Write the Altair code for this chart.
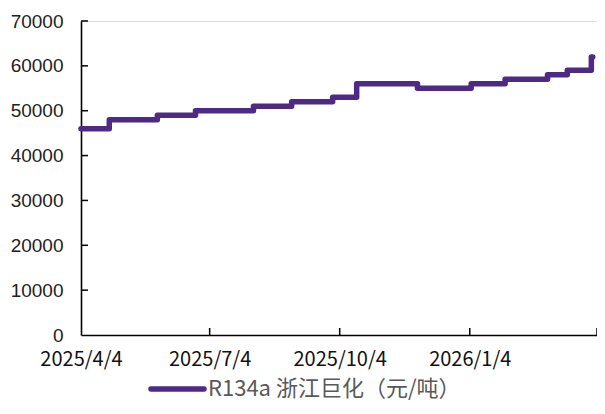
import altair as alt
import pandas as pd

# Step change dates and prices (元/吨)
dates = ["2025-04-04", "2025-04-24", "2025-05-28", "2025-06-24", "2025-08-04",
         "2025-08-31", "2025-09-29", "2025-10-16", "2025-11-28", "2026-01-05",
         "2026-01-29", "2026-02-28", "2026-03-14", "2026-03-31", "2026-04-01"]
prices = [46000, 48000, 49000, 50000, 51000,
          52000, 53000, 56000, 55000, 56000,
          57000, 58000, 59000, 62000, 62000]
series_name = "R134a 浙江巨化（元/吨）"

x_ticks = ["2025-04-04", "2025-07-04", "2025-10-04", "2026-01-04", "2026-04-04"]
x_label_dates = ["2025-04-04", "2025-07-04", "2025-10-04", "2026-01-04"]
y_ticks = [0, 10000, 20000, 30000, 40000, 50000, 60000, 70000]

LINE_COLOR = "#4E2A84"
W, H = 516, 314

df = pd.DataFrame({"date": dates, "price": prices, "series": series_name})
xt_df = pd.DataFrame({"date": x_ticks[1:]})
yt_df = pd.DataFrame({"v": y_ticks[1:]})
lg_df = pd.DataFrame({"label": [series_name]})

x_scale = alt.Scale(type="utc", domain=["2025-04-04", "2026-04-04"])
y_scale = alt.Scale(domain=[0, 70000], nice=False)

line = alt.Chart(df).mark_line(
    interpolate="step-after", strokeWidth=5.5, strokeCap="round",
    strokeJoin="round", color=LINE_COLOR
).encode(
    x=alt.X("date:T", scale=x_scale,
            axis=alt.Axis(title=None, values=x_label_dates, format="%Y/%-m/%-d",
                          ticks=False, grid=False, labelFont="Noto Sans CJK SC",
                          labelFontSize=20, labelColor="#111", labelPadding=14,
                          domainColor="#000", domainWidth=1.6, labelFlush=False)),
    y=alt.Y("price:Q", scale=y_scale,
            axis=alt.Axis(title=None, values=y_ticks, format="d", ticks=False,
                          grid=False, labelFont="Liberation Sans", labelFontSize=19,
                          labelColor="#222", labelPadding=18,
                          domainColor="#000", domainWidth=1.6)),
)

xticks = alt.Chart(xt_df).mark_rule(color="#000", strokeWidth=1.5).encode(
    x=alt.X("date:T", scale=x_scale),
    y=alt.value(H), y2=alt.value(H - 7),
)

yticks = alt.Chart(yt_df).mark_rule(color="#000", strokeWidth=1.5).encode(
    y=alt.Y("v:Q", scale=y_scale),
    x=alt.value(0), x2=alt.value(7),
)

legend_line = alt.Chart(lg_df).mark_rule(
    color=LINE_COLOR, strokeWidth=5.5, strokeCap="round"
).encode(x=alt.value(70), x2=alt.value(123), y=alt.value(368))

legend_text = alt.Chart(lg_df).mark_text(
    align="left", baseline="middle", font="Noto Sans CJK SC", fontSize=22,
    color="#595959"
).encode(text="label:N", x=alt.value(127), y=alt.value(368))

chart = alt.layer(line, xticks, yticks, legend_line, legend_text).properties(
    width=W, height=H,
    autosize=alt.AutoSizeParams(type="none"),
    padding={"left": 73, "top": 13, "right": 0, "bottom": 67},
).configure_view(stroke=None).configure(background="#ffffff")

chart.save("out.html", embed_options={"renderer": "svg", "actions": False})
